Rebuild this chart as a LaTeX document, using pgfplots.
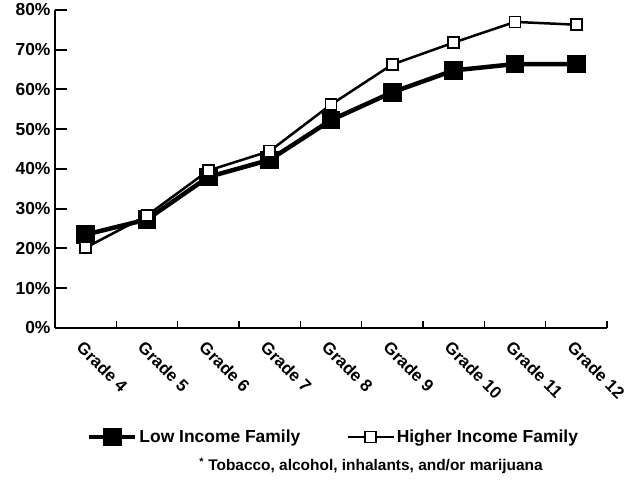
\documentclass[border=0pt]{standalone}
\usepackage{pgfplots}
\pgfplotsset{compat=1.18}
\usepackage{fontspec}
\setmainfont{Liberation Sans}
\pgfplotstableread{
x low high
0 23.5 20.2
1 27.3 28.3
2 38.0 39.6
3 42.3 44.5
4 52.3 56.2
5 59.3 66.3
6 64.8 71.8
7 66.4 77.0
8 66.4 76.3
}\datatable
\begin{document}
\begin{tikzpicture}[x=1bp,y=1bp]
\useasboundingbox (0,0) rectangle (630,482);
\begin{axis}[
  at={(55bp,154bp)}, anchor=south west,
  scale only axis, width=552bp, height=318bp,
  xmin=-0.5, xmax=8.5, ymin=0, ymax=80,
  axis lines=left, axis line style={line width=2.2bp, -},
  /pgf/number format/assume math mode=true,
  xtick={0,...,8},
  xticklabels={Grade 4,Grade 5,Grade 6,Grade 7,Grade 8,Grade 9,Grade 10,Grade 11,Grade 12},
  minor xtick={0.5,1.5,...,8.5},
  major x tick style={draw=none},
  minor x tick style={line width=1.5bp, black},
  minor tick length=7bp,
  ytick={0,10,...,80},
  yticklabel={\pgfmathprintnumber{\tick}\%},
  major tick length=12bp,
  tick align=inside,
  major y tick style={line width=2bp, black},
  yticklabel style={font=\fontsize{17.5}{17.5}\selectfont\bfseries, xshift=-1bp},
  xticklabel style={rotate=-45, anchor=north west, font=\fontsize{17}{17}\selectfont\bfseries, xshift=4bp, yshift=-6bp},
  legend style={at={(0.5045,-0.343)}, anchor=center, draw=none, fill=none,
    font=\fontsize{17.5}{17.5}\selectfont\bfseries,
    /tikz/every even column/.append style={column sep=44bp}},
  legend columns=2,
  legend cell align=left,
  legend image code/.code={\draw[mark repeat=2,mark phase=2,#1] plot coordinates {(0bp,0bp) (23bp,0bp) (46bp,0bp)};},
  clip=false,
]
\addplot[black, line width=4.5bp, mark=square*, mark size=7bp, mark options={solid, fill=black}] table[x=x, y=low] {\datatable};
\addplot[black, line width=2.5bp, mark=square*, mark size=5.5bp, mark options={solid, fill=white, line width=1.5bp}] table[x=x, y=high] {\datatable};
\legend{Low Income Family, Higher Income Family}
\end{axis}
\node[font=\fontsize{15.5}{15.5}\selectfont\bfseries] at (371,16) {\textsuperscript{*} Tobacco, alcohol, inhalants, and/or marijuana};
\end{tikzpicture}
\end{document}
